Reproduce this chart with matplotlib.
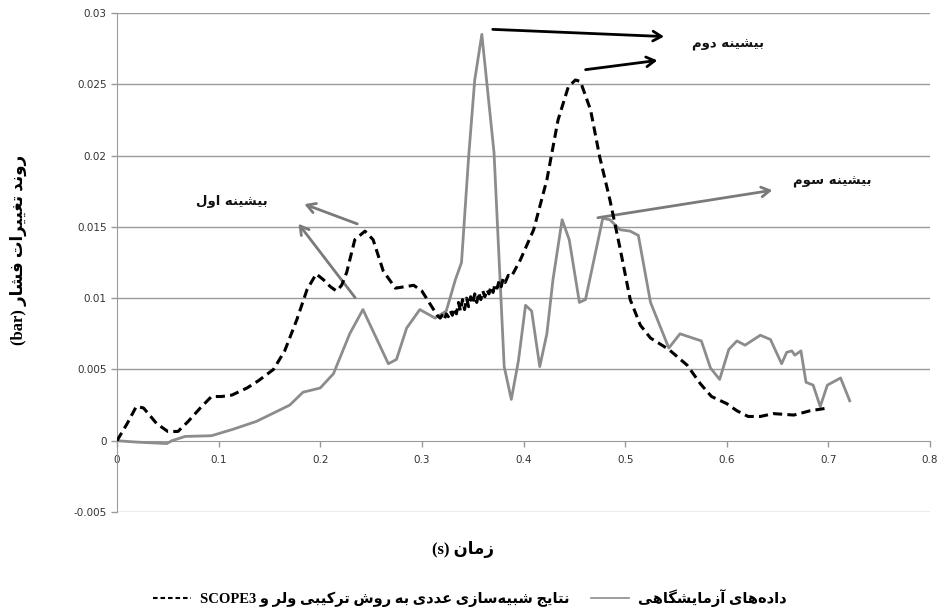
import matplotlib
matplotlib.use("Agg")
import matplotlib.pyplot as plt
from matplotlib.lines import Line2D
from matplotlib.ticker import FuncFormatter

# ---------------- data ----------------
exp_t = [0.000, 0.020, 0.049, 0.054, 0.067, 0.093, 0.114, 0.137, 0.150, 0.170,
         0.183, 0.200, 0.213, 0.229, 0.242, 0.267, 0.275, 0.285, 0.298, 0.313,
         0.324, 0.333, 0.339, 0.346, 0.352, 0.359, 0.371, 0.381, 0.388, 0.395,
         0.402, 0.408, 0.416, 0.423, 0.429, 0.438, 0.445, 0.455, 0.461, 0.478,
         0.485, 0.495, 0.505, 0.513, 0.525, 0.543, 0.554, 0.575, 0.584, 0.593,
         0.602, 0.610, 0.618, 0.633, 0.643, 0.654, 0.659, 0.664, 0.667, 0.673,
         0.678, 0.685, 0.692, 0.699, 0.712, 0.721]
exp_p = [0.0000, -0.0001, -0.0002, 0.0000, 0.0003, 0.00035, 0.0008, 0.00135, 0.0018, 0.0025,
         0.0034, 0.0037, 0.0047, 0.0075, 0.0092, 0.0054, 0.0057, 0.0079, 0.0092, 0.0086,
         0.0091, 0.0113, 0.0125, 0.0199, 0.0253, 0.0285, 0.0202, 0.0052, 0.0029, 0.0056,
         0.0095, 0.0091, 0.0052, 0.0075, 0.0113, 0.0155, 0.0141, 0.0097, 0.0099, 0.0156,
         0.0155, 0.0148, 0.0147, 0.0144, 0.0097, 0.0065, 0.0075, 0.0070, 0.0051, 0.0043,
         0.0064, 0.0070, 0.0067, 0.0074, 0.0071, 0.0054, 0.0062, 0.0063, 0.0060, 0.0063,
         0.0041, 0.0039, 0.0024, 0.0039, 0.0044, 0.0028]

sim_t = [0.000, 0.010, 0.019, 0.026, 0.032, 0.039, 0.050, 0.060, 0.070, 0.082,
         0.093, 0.103, 0.113, 0.128, 0.139, 0.154, 0.165, 0.177, 0.187, 0.196,
         0.203, 0.210, 0.216, 0.221, 0.226, 0.234, 0.244, 0.252, 0.262, 0.274,
         0.283, 0.292, 0.300, 0.308, 0.315,
         0.318, 0.320, 0.322, 0.324, 0.326, 0.328, 0.330, 0.332, 0.334, 0.336,
         0.338, 0.340, 0.342, 0.344, 0.346, 0.348, 0.350, 0.352, 0.354, 0.356,
         0.358, 0.360, 0.362, 0.364, 0.366, 0.368, 0.370, 0.372, 0.374, 0.376,
         0.378, 0.380, 0.382, 0.385, 0.388,
         0.397, 0.410, 0.423, 0.434, 0.444, 0.451, 0.456, 0.466, 0.475, 0.485,
         0.495, 0.505, 0.515, 0.525, 0.543, 0.561, 0.574, 0.585, 0.600, 0.610,
         0.621, 0.633, 0.646, 0.666, 0.682, 0.700]
sim_p = [0.0000, 0.0012, 0.0024, 0.0023, 0.0018, 0.0012, 0.00065, 0.00065, 0.00135, 0.0023,
         0.0031, 0.0031, 0.0032, 0.0037, 0.0042, 0.0050, 0.0063, 0.0085, 0.0106, 0.0117,
         0.0113, 0.0108, 0.0105, 0.0109, 0.0118, 0.0141, 0.0147, 0.0141, 0.0119, 0.0107,
         0.0108, 0.0109, 0.0105, 0.0096, 0.0088,
         0.0086, 0.0088, 0.0085, 0.0089, 0.0087, 0.0091, 0.0088, 0.0093, 0.0089, 0.0097,
         0.0091, 0.0099, 0.0092, 0.0100, 0.0094, 0.0101, 0.0096, 0.0103, 0.0097, 0.0104,
         0.0099, 0.0105, 0.0101, 0.0106, 0.0103, 0.0108, 0.0104, 0.0110, 0.0107, 0.0112,
         0.0108, 0.0114, 0.0111, 0.0116, 0.0115,
         0.0127, 0.0148, 0.0183, 0.0225, 0.0248, 0.0253, 0.0252, 0.0232, 0.0199, 0.0169,
         0.0135, 0.0099, 0.0081, 0.0072, 0.0064, 0.0053, 0.0040, 0.0031, 0.0026, 0.0021,
         0.0017, 0.0017, 0.0019, 0.0018, 0.0021, 0.0023]

x_ticks = [0, 0.1, 0.2, 0.3, 0.4, 0.5, 0.6, 0.7, 0.8]
y_ticks = [-0.005, 0, 0.005, 0.01, 0.015, 0.02, 0.025, 0.03]

label_exp = "داده‌های آزمایشگاهی"
label_sim = "نتایج شبیه‌سازی عددی به روش ترکیبی ولر و"
label_sim_latin = "SCOPE3"
ylabel_fa = "روند تغییرات فشار"
ylabel_unit = "(bar)"
xlabel_fa = "زمان"
xlabel_unit = "(s)"
peak1 = "بیشینه اول"
peak2 = "بیشینه دوم"
peak3 = "بیشینه سوم"

# ---------------- minimal Persian shaping ----------------
FORMS = {
    '\u0627': ('\uFE8D', '\uFE8E', None, None),
    '\u0622': ('\uFE81', '\uFE82', None, None),
    '\u0628': ('\uFE8F', '\uFE90', '\uFE91', '\uFE92'),
    '\u062A': ('\uFE95', '\uFE96', '\uFE97', '\uFE98'),
    '\u062C': ('\uFE9D', '\uFE9E', '\uFE9F', '\uFEA0'),
    '\u062F': ('\uFEA9', '\uFEAA', None, None),
    '\u0631': ('\uFEAD', '\uFEAE', None, None),
    '\u0632': ('\uFEAF', '\uFEB0', None, None),
    '\u0633': ('\uFEB1', '\uFEB2', '\uFEB3', '\uFEB4'),
    '\u0634': ('\uFEB5', '\uFEB6', '\uFEB7', '\uFEB8'),
    '\u0639': ('\uFEC9', '\uFECA', '\uFECB', '\uFECC'),
    '\u063A': ('\uFECD', '\uFECE', '\uFECF', '\uFED0'),
    '\u0641': ('\uFED1', '\uFED2', '\uFED3', '\uFED4'),
    '\u0644': ('\uFEDD', '\uFEDE', '\uFEDF', '\uFEE0'),
    '\u0645': ('\uFEE1', '\uFEE2', '\uFEE3', '\uFEE4'),
    '\u0646': ('\uFEE5', '\uFEE6', '\uFEE7', '\uFEE8'),
    '\u0647': ('\uFEE9', '\uFEEA', '\uFEEB', '\uFEEC'),
    '\u0648': ('\uFEED', '\uFEEE', None, None),
    '\u06CC': ('\uFBFC', '\uFBFD', '\uFBFE', '\uFBFF'),
    '\u06A9': ('\uFB8E', '\uFB8F', '\uFB90', '\uFB91'),
    '\u06AF': ('\uFB92', '\uFB93', '\uFB94', '\uFB95'),
}


def fa(s):
    out = []
    for i, c in enumerate(s):
        if c == '\u200c':
            continue
        if c not in FORMS:
            out.append(c)
            continue
        f = FORMS[c]
        prev = s[i - 1] if i > 0 else ''
        nxt = s[i + 1] if i + 1 < len(s) else ''
        jp = prev in FORMS and FORMS[prev][2] is not None
        jn = nxt in FORMS and f[2] is not None
        if jp and jn:
            out.append(f[3])
        elif jp:
            out.append(f[1])
        elif jn:
            out.append(f[2])
        else:
            out.append(f[0])
    return ''.join(reversed(out))


SERIF = ['Liberation Serif', 'DejaVu Sans']
SANS = ['DejaVu Sans']

# ---------------- figure ----------------
fig = plt.figure(figsize=(9.39, 6.13), dpi=100)
ax = fig.add_axes([117 / 939, 1 - 512 / 613, (930 - 117) / 939, (512 - 13) / 613])

grid_c = '#9a9a9a'
ax.set_xlim(0, 0.8)
ax.set_ylim(-0.005, 0.03)
ax.set_yticks(y_ticks)
ax.set_xticks(x_ticks)
fmt = FuncFormatter(lambda v, p: '0' if abs(v) < 1e-12 else ('%g' % v))
ax.xaxis.set_major_formatter(fmt)
ax.yaxis.set_major_formatter(fmt)
for yv in y_ticks:
    if yv != 0:
        ax.axhline(yv, color=grid_c, lw=1.0, zorder=0)

for s in ['top', 'right']:
    ax.spines[s].set_visible(False)
ax.spines['bottom'].set_position(('data', 0))
ax.spines['bottom'].set_color(grid_c)
ax.spines['left'].set_color(grid_c)
ax.tick_params(axis='both', colors=grid_c, direction='out', length=4, width=1,
               labelsize=7.5, labelcolor='#333333')
ax.tick_params(axis='x', pad=6)

ax.plot(exp_t, exp_p, color='#8c8c8c', lw=2.0, zorder=3)
ax.plot(sim_t, sim_p, color='black', lw=2.2, dashes=(3.0, 1.7), zorder=4)

# annotations
gray_arrow = dict(arrowstyle='->,head_length=0.6,head_width=0.35', color='#7a7a7a', lw=2)
black_arrow = dict(arrowstyle='->,head_length=0.6,head_width=0.35', color='black', lw=2)
ax.annotate('', xy=(0.1818, 0.01666), xytext=(0.239, 0.01514), arrowprops=gray_arrow)
ax.annotate('', xy=(0.1769, 0.01537), xytext=(0.236, 0.00988), arrowprops=gray_arrow)
ax.annotate('', xy=(0.541, 0.02834), xytext=(0.367, 0.02886), arrowprops=black_arrow)
ax.annotate('', xy=(0.5344, 0.0267), xytext=(0.4584, 0.0260), arrowprops=black_arrow)
ax.annotate('', xy=(0.6476, 0.0176), xytext=(0.4705, 0.01561), arrowprops=gray_arrow)

ax.text(0.1129, 0.01677, fa(peak1), ha='center', va='center', fontsize=9.5,
        fontweight='bold', family=SANS, color='#111111')
ax.text(0.601, 0.02776, fa(peak2), ha='center', va='center', fontsize=9.5,
        fontweight='bold', family=SANS, color='#111111')
ax.text(0.7034, 0.01817, fa(peak3), ha='center', va='center', fontsize=9.5,
        fontweight='bold', family=SANS, color='#111111')

# axis labels
fig.text(18 / 939, 1 - 250 / 613, ylabel_unit + ' ' + fa(ylabel_fa), rotation=90,
         ha='center', va='center', fontsize=12, fontweight='bold', family=SERIF)
fig.text(463 / 939, 1 - 550 / 613, xlabel_unit + ' ' + fa(xlabel_fa),
         ha='center', va='center', fontsize=12, fontweight='bold', family=SERIF)

# legend
h_sim = Line2D([], [], color='black', lw=1.5, dashes=(2.2, 1.4))
h_exp = Line2D([], [], color='#8c8c8c', lw=1.2)
leg = fig.legend([h_sim, h_exp],
                 [label_sim_latin + ' ' + fa(label_sim), fa(label_exp)],
                 loc='center', bbox_to_anchor=(470 / 939, 1 - 598 / 613), ncol=2,
                 frameon=False, handlelength=2.6, columnspacing=1.5, handletextpad=0.6,
                 prop={'family': SERIF, 'weight': 'bold', 'size': 10.5})

fig.savefig('out.png', dpi=100)
